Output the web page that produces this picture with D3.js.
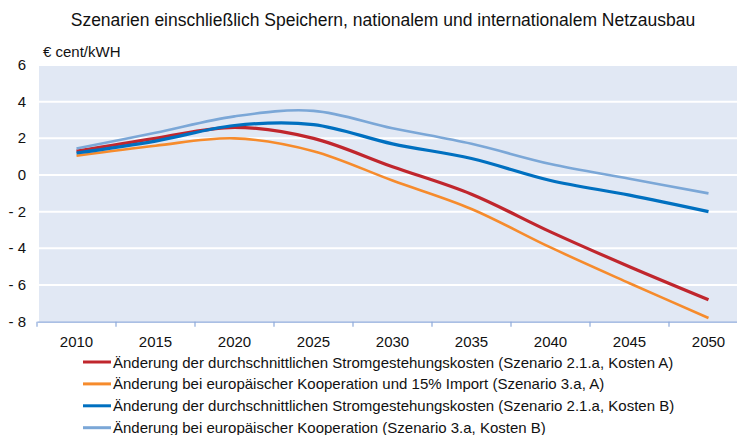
<!DOCTYPE html>
<html>
<head>
<meta charset="utf-8">
<script src="https://d3js.org/d3.v7.min.js"></script>
<style>
body { margin: 0; background: white; font-family: "Liberation Sans", Arial, sans-serif; }
</style>
</head>
<body>
<script>
// values
var years = ["2010","2015","2020","2025","2030","2035","2040","2045","2050"];
var redA = [1.3, 2.0, 2.6, 2.0, 0.45, -1.05, -3.1, -5.0, -6.8];
var orangeA = [1.05, 1.6, 2.0, 1.3, -0.3, -1.85, -3.95, -5.9, -7.8];
var blueB = [1.2, 1.85, 2.7, 2.75, 1.7, 0.9, -0.3, -1.1, -2.0];
var lightB = [1.45, 2.3, 3.2, 3.5, 2.55, 1.7, 0.6, -0.2, -1.0];
var yTicks = [6, 4, 2, 0, -2, -4, -6, -8];

var series = [
  {name: "Änderung der durchschnittlichen Stromgestehungskosten (Szenario 2.1.a, Kosten A)", values: redA, color: "#c0262d", w: 3.2},
  {name: "Änderung bei europäischer Kooperation und 15% Import (Szenario 3.a, A)", values: orangeA, color: "#f68b2c", w: 2.6},
  {name: "Änderung der durchschnittlichen Stromgestehungskosten (Szenario 2.1.a, Kosten B)", values: blueB, color: "#0070c0", w: 3.2},
  {name: "Änderung bei europäischer Kooperation (Szenario 3.a, Kosten B)", values: lightB, color: "#7ba7d7", w: 2.6}
];

var width = 737, height = 435;
var svg = d3.select("body").append("svg")
  .attr("width", width)
  .attr("height", height);

var x = d3.scaleBand().domain(years).range([37, 748]).padding(0);
var y = d3.scaleLinear().domain([-8, 6]).range([321.7, 65]);

// plot background
svg.append("rect")
  .attr("x", 39).attr("y", y(6))
  .attr("width", width - 39).attr("height", y(-8) - y(6))
  .attr("fill", "#e1e8f4");

// gridlines
svg.append("g").selectAll("line")
  .data(yTicks.filter(function(d){ return d > -8; }))
  .enter().append("line")
  .attr("x1", 39).attr("x2", width)
  .attr("y1", function(d){ return y(d); })
  .attr("y2", function(d){ return y(d); })
  .attr("stroke", "white")
  .attr("stroke-width", 2);

// y labels
svg.append("g").selectAll("text")
  .data(yTicks)
  .enter().append("text")
  .attr("x", 26)
  .attr("y", function(d){ return y(d) + 5; })
  .attr("text-anchor", "end")
  .attr("font-size", "15px")
  .attr("fill", "#111")
  .text(function(d){ return d < 0 ? "- " + Math.abs(d) : d; });

// x axis
var xAxis = d3.axisBottom(x).tickSize(0).tickPadding(15);
var gx = svg.append("g")
  .attr("transform", "translate(0," + y(-8) + ")")
  .call(xAxis);
gx.select(".domain").attr("stroke", "#8eaadb").attr("stroke-width", 1.2);
gx.selectAll("text").attr("font-size", "15px").attr("fill", "#111")
  .attr("font-family", "Liberation Sans, Arial, sans-serif");
gx.selectAll(".bound")
  .data(years.concat(["end"]))
  .enter().append("line")
  .attr("x1", function(d, i){ return x.range()[0] + i * x.bandwidth(); })
  .attr("x2", function(d, i){ return x.range()[0] + i * x.bandwidth(); })
  .attr("y1", 0).attr("y2", 5)
  .attr("stroke", "#8eaadb").attr("stroke-width", 1.2);

// lines
var line = d3.line()
  .x(function(d, i){ return x(years[i]) + x.bandwidth() / 2; })
  .y(function(d){ return y(d); })
  .curve(d3.curveCardinal.tension(0));

svg.append("g").selectAll("path")
  .data(series)
  .enter().append("path")
  .attr("d", function(d){ return line(d.values); })
  .attr("fill", "none")
  .attr("stroke", function(d){ return d.color; })
  .attr("stroke-width", function(d){ return d.w; });

// title + unit
svg.append("text")
  .attr("x", 383).attr("y", 26)
  .attr("text-anchor", "middle")
  .attr("font-size", "17.5px")
  .attr("fill", "#111")
  .text("Szenarien einschließlich Speichern, nationalem und internationalem Netzausbau");

svg.append("text")
  .attr("x", 43).attr("y", 57)
  .attr("font-size", "15px")
  .attr("fill", "#111")
  .text("€ cent/kWH");

// legend
var leg = svg.append("g").selectAll("g")
  .data(series)
  .enter().append("g")
  .attr("transform", function(d, i){ return "translate(83," + (362 + i * 21.9) + ")"; });
leg.append("line")
  .attr("x1", 0).attr("x2", 28)
  .attr("stroke", function(d){ return d.color; })
  .attr("stroke-width", 3);
leg.append("text")
  .attr("x", 30).attr("y", 5.5)
  .attr("font-size", "15px")
  .attr("fill", "#111")
  .text(function(d){ return d.name; });
</script>
</body>
</html>
